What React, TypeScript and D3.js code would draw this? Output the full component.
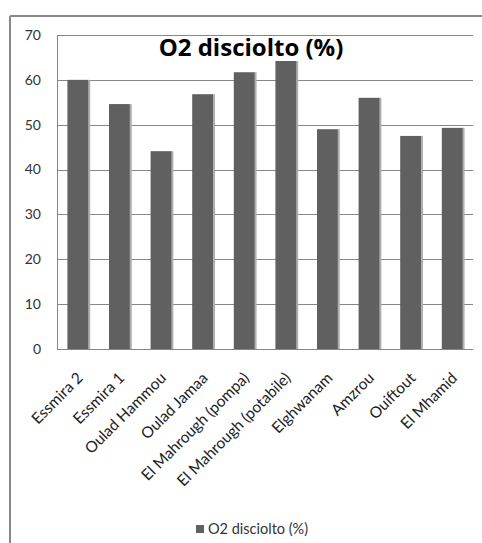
import React from "react";
import * as d3 from "d3";

const categories: string[] = [
  "Essmira 2",
  "Essmira 1",
  "Oulad Hammou",
  "Oulad Jamaa",
  "El Mahrough (pompa)",
  "El Mahrough (potabile)",
  "Elghwanam",
  "Amzrou",
  "Ouiftout",
  "El Mhamid",
];
const o2Values: number[] = [60.0, 54.6, 44.1, 56.8, 61.7, 64.2, 49.0, 56.0, 47.5, 49.3];
const yTicks: number[] = [0, 10, 20, 30, 40, 50, 60, 70];
const seriesName = "O2 disciolto (%)";
const chartTitle = "O2 disciolto (%)";

const W = 482;
const H = 543;
const plot = { left: 57, right: 473, top: 35, bottom: 349 };
const FONT = "Lato, 'Open Sans', 'DejaVu Sans', sans-serif";
const TITLE_FONT = "'Open Sans', Lato, sans-serif";
const BAR = "#606060";
const GRID = "#868686";

export default function App() {
  const x = d3
    .scaleBand<string>()
    .domain(categories)
    .range([plot.left, plot.right])
    .paddingInner(0.5)
    .paddingOuter(0.25);
  const y = d3.scaleLinear().domain([0, 70]).range([plot.bottom, plot.top]);
  const bw = x.bandwidth();

  return (
    <svg
      width={W}
      height={H}
      style={{ position: "absolute", left: 0, top: 0, background: "#fff" }}
      fontFamily={FONT}
    >
      <rect x={0} y={0} width={W} height={H} fill="#fff" />
      {/* chart frame */}
      <line x1={10} x2={W} y1={16} y2={16} stroke="#888" strokeWidth={2} />
      <line x1={10} x2={10} y1={16} y2={H} stroke="#888" strokeWidth={2} />

      {/* gridlines and y ticks */}
      {yTicks.map((t) => (
        <g key={t}>
          <line
            x1={plot.left}
            x2={plot.right}
            y1={Math.round(y(t)) + 0.5}
            y2={Math.round(y(t)) + 0.5}
            stroke={GRID}
            strokeWidth={1}
          />
          <text
            x={41}
            y={y(t)}
            dy="0.35em"
            textAnchor="end"
            fontSize={14}
            fill="#333"
          >
            {t}
          </text>
        </g>
      ))}
      <line
        x1={plot.left + 0.5}
        x2={plot.left + 0.5}
        y1={plot.top}
        y2={plot.bottom}
        stroke={GRID}
        strokeWidth={1}
      />

      {/* bars */}
      {categories.map((c, i) => {
        const bx = x(c)!;
        const top = y(o2Values[i]);
        return (
          <g key={c}>
            <rect x={bx + bw - 0.5} y={top} width={2.5} height={plot.bottom - top} fill="#b0b0b0" />
            <rect x={bx} y={top} width={bw} height={plot.bottom - top} fill={BAR} />
          </g>
        );
      })}

      {/* category labels, rotated 45° and anchored at their end */}
      {categories.map((c) => {
        const cx = x(c)! + bw / 2;
        return (
          <text
            key={c}
            transform={`translate(${cx + 6},${plot.bottom + 30}) rotate(-45)`}
            textAnchor="end"
            fontSize={15.5}
            fill="#222"
          >
            {c}
          </text>
        );
      })}

      {/* title */}
      <text
        x={251}
        y={56}
        textAnchor="middle"
        fontSize={24}
        fontWeight="bold"
        fontFamily={TITLE_FONT}
        fill="#000"
      >
        {chartTitle}
      </text>

      {/* legend */}
      <rect x={196} y={525} width={8} height={8} fill={BAR} />
      <text x={208} y={529} dy="0.35em" fontSize={14.5} fill="#333">
        {seriesName}
      </text>
    </svg>
  );
}
